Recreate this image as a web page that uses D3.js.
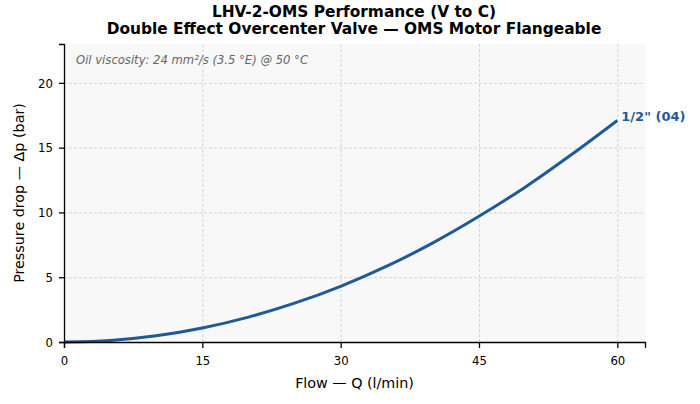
<!doctype html>
<html>
<head>
<meta charset="utf-8">
<script src="https://cdnjs.cloudflare.com/ajax/libs/d3/7.8.5/d3.min.js"></script>
<style>
  body { margin: 0; background: white; }
  svg { display: block; font-family: "DejaVu Sans", sans-serif; }
  .grid line { stroke: #cccccc; stroke-dasharray: 3,2; stroke-width: 0.8; }
  .grid path { display: none; }
  .axis path, .axis line { stroke: #000; stroke-width: 1.3; }
  .axis text { font-size: 13px; fill: #000; font-family: "DejaVu Sans Condensed", "DejaVu Sans", sans-serif; font-stretch: condensed; }
</style>
</head>
<body>
<svg id="chart" width="700" height="404"></svg>
<script>
// flow (l/min) and pressure drop (bar)
const flow     = [0, 5, 10, 15, 20, 25, 30, 35, 40, 45, 50, 55, 60];
const pressure = [0, 0.12, 0.48, 1.08, 1.92, 3.0, 4.3, 5.85, 7.65, 9.7, 11.95, 14.45, 17.1];
const xTicks = [0, 15, 30, 45, 60];
const yTicks = [0, 5, 10, 15, 20];
const seriesName = '1/2" (04)';

const svg = d3.select('#chart');
const m = {left: 64, right: 55, top: 44, bottom: 62};
const W = 700, H = 404;

const x = d3.scaleLinear().domain([0, 63]).range([m.left, W - m.right]);
const y = d3.scaleLinear().domain([0, 23]).range([H - m.bottom, m.top]);

// plot background
svg.append('rect')
  .attr('x', x(0)).attr('y', y(23))
  .attr('width', x(63) - x(0)).attr('height', y(0) - y(23))
  .attr('fill', '#f8f8f8');

// grid
svg.append('g').attr('class', 'grid')
  .attr('transform', `translate(0,${y(0)})`)
  .call(d3.axisBottom(x).tickValues(xTicks).tickSize(-(y(0) - y(23))).tickFormat(''));
svg.append('g').attr('class', 'grid')
  .attr('transform', `translate(${x(0)},0)`)
  .call(d3.axisLeft(y).tickValues(yTicks).tickSize(-(x(63) - x(0))).tickFormat(''));

// curve
const pts = flow.map((q, i) => [q, pressure[i]]);
svg.append('path')
  .datum(pts)
  .attr('fill', 'none')
  .attr('stroke', '#1f5a96')
  .attr('stroke-width', 3)
  .attr('d', d3.line().x(d => x(d[0])).y(d => y(d[1])).curve(d3.curveMonotoneX));

// axes
svg.append('g').attr('class', 'axis')
  .attr('transform', `translate(0,${y(0)})`)
  .call(d3.axisBottom(x).tickValues(xTicks).tickSizeOuter(0).tickSize(6).tickPadding(8));
svg.append('g').attr('class', 'axis')
  .attr('transform', `translate(${x(0)},0)`)
  .call(d3.axisLeft(y).tickValues(yTicks).tickSizeOuter(0).tickSize(5).tickPadding(6));

svg.append('text')
  .attr('x', x(60) + 4).attr('y', y(pressure[pressure.length - 1]) + 1)
  .attr('font-size', 13).attr('font-weight', 'bold').attr('fill', '#1f5a96')
  .text(seriesName);

// annotation
svg.append('text')
  .attr('x', x(0) + 12).attr('y', 64)
  .attr('font-size', 11.6).attr('font-style', 'italic').attr('fill', '#666')
  .text('Oil viscosity: 24 mm²/s (3.5 °E) @ 50 °C');

// titles
svg.append('text').attr('x', 354).attr('y', 17).attr('text-anchor', 'middle')
  .attr('font-size', 15.4).attr('font-weight', 'bold')
  .text('LHV-2-OMS Performance (V to C)');
svg.append('text').attr('x', 354).attr('y', 34).attr('text-anchor', 'middle')
  .attr('font-size', 15.4).attr('font-weight', 'bold')
  .text('Double Effect Overcenter Valve — OMS Motor Flangeable');

// axis labels
svg.append('text').attr('x', (x(0) + x(63)) / 2).attr('y', 388).attr('text-anchor', 'middle')
  .attr('font-size', 14.3).text('Flow — Q (l/min)');
svg.append('text')
  .attr('transform', `translate(24,${(y(0) + y(23)) / 2}) rotate(-90)`)
  .attr('text-anchor', 'middle').attr('font-size', 14.3)
  .text('Pressure drop — Δp (bar)');
</script>
</body>
</html>
